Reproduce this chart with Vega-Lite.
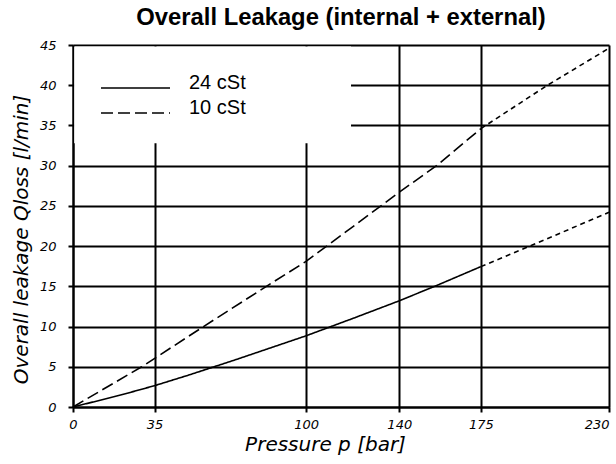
{
  "$schema": "https://vega.github.io/schema/vega-lite/v6.json",
  "width": 536,
  "height": 362,
  "autosize": {"type": "none"},
  "padding": {"left": 73, "top": 45, "right": 7, "bottom": 57},
  "background": "white",
  "config": {"view": {"stroke": null}, "font": "Liberation Sans"},
  "title": {
    "text": "Overall Leakage (internal + external)",
    "font": "Liberation Sans",
    "fontSize": 23.8,
    "fontWeight": "bold",
    "color": "black",
    "anchor": "middle",
    "offset": 9
  },
  "layer": [
    {
      "data": {"values": [{}]},
      "mark": {"type": "rect", "fill": "white"},
      "encoding": {
        "x": {"datum": 0.5, "type": "quantitative"},
        "x2": {"datum": 119.3},
        "y": {"datum": 32.8, "type": "quantitative"},
        "y2": {"datum": 44.8}
      }
    },
    {
      "data": {
        "values": [
          {"p": 0, "q": 0, "curve": "24", "style": "24 cSt"},
          {"p": 20, "q": 1.45, "curve": "24", "style": "24 cSt"},
          {"p": 35, "q": 2.65, "curve": "24", "style": "24 cSt"},
          {"p": 50, "q": 4.0, "curve": "24", "style": "24 cSt"},
          {"p": 70, "q": 5.9, "curve": "24", "style": "24 cSt"},
          {"p": 100, "q": 8.85, "curve": "24", "style": "24 cSt"},
          {"p": 120, "q": 11.0, "curve": "24", "style": "24 cSt"},
          {"p": 140, "q": 13.2, "curve": "24", "style": "24 cSt"},
          {"p": 156, "q": 15.1, "curve": "24", "style": "24 cSt"},
          {"p": 175, "q": 17.45, "curve": "24", "style": "24 cSt"},
          {"p": 175, "q": 17.45, "curve": "24", "style": "ext"},
          {"p": 196, "q": 20.0, "curve": "24", "style": "ext"},
          {"p": 230, "q": 24.2, "curve": "24", "style": "ext"},
          {"p": 0, "q": 0, "curve": "10", "style": "10 cSt"},
          {"p": 15, "q": 2.55, "curve": "10", "style": "10 cSt"},
          {"p": 29.5, "q": 5.0, "curve": "10", "style": "10 cSt"},
          {"p": 56, "q": 10.0, "curve": "10", "style": "10 cSt"},
          {"p": 83, "q": 15.0, "curve": "10", "style": "10 cSt"},
          {"p": 100, "q": 18.1, "curve": "10", "style": "10 cSt"},
          {"p": 120, "q": 22.4, "curve": "10", "style": "10 cSt"},
          {"p": 140, "q": 26.7, "curve": "10", "style": "10 cSt"},
          {"p": 156, "q": 30.0, "curve": "10", "style": "10 cSt"},
          {"p": 175, "q": 34.6, "curve": "10", "style": "10 cSt"},
          {"p": 175, "q": 34.6, "curve": "10", "style": "ext"},
          {"p": 203.6, "q": 40.0, "curve": "10", "style": "ext"},
          {"p": 230, "q": 44.6, "curve": "10", "style": "ext"}
        ]
      },
      "mark": {"type": "line", "color": "black", "strokeWidth": 1.6},
      "encoding": {
        "x": {
          "field": "p",
          "type": "quantitative",
          "scale": {"domain": [0, 230], "nice": false, "zero": false},
          "axis": {
            "values": [0, 35, 100, 140, 175, 230],
            "title": "Pressure p [bar]",
            "titleFont": "DejaVu Sans",
            "titleFontStyle": "italic",
            "titleFontWeight": "normal",
            "titleFontSize": 20,
            "titleColor": "black",
            "titleX": 252,
            "titleY": 27,
            "titleBaseline": "top",
            "labelFont": "DejaVu Sans",
            "labelFontStyle": "italic",
            "labelFontSize": 13,
            "labelColor": "black",
            "labelPadding": 6,
            "labelFlush": false,
            "labelOverlap": false,
            "labelAlign": {"condition": {"test": "datum.value === 230", "value": "right"}, "value": "center"},
            "tickSize": 5,
            "tickWidth": 2,
            "tickColor": "black",
            "domainColor": "black",
            "domainWidth": 2,
            "grid": true,
            "gridColor": "black",
            "gridWidth": 2,
            "gridOpacity": 1
          }
        },
        "y": {
          "field": "q",
          "type": "quantitative",
          "scale": {"domain": [0, 45], "nice": false},
          "axis": {
            "values": [0, 5, 10, 15, 20, 25, 30, 35, 40, 45],
            "title": "Overall leakage Qloss [l/min]",
            "titleFont": "DejaVu Sans",
            "titleFontStyle": "italic",
            "titleFontWeight": "normal",
            "titleFontSize": 20,
            "titleColor": "black",
            "titleX": -42,
            "titleY": 194,
            "labelFont": "DejaVu Sans",
            "labelFontStyle": "italic",
            "labelFontSize": 13,
            "labelColor": "black",
            "labelPadding": 12,
            "labelFlush": false,
            "labelOverlap": false,
            "tickSize": 5,
            "tickWidth": 2,
            "tickColor": "black",
            "domainColor": "black",
            "domainWidth": 2,
            "grid": true,
            "gridColor": "black",
            "gridWidth": 2,
            "gridOpacity": 1
          }
        },
        "strokeDash": {
          "field": "style",
          "type": "nominal",
          "scale": {"domain": ["24 cSt", "10 cSt", "ext"], "range": [[1, 0], [12, 5], [5, 4]]},
          "legend": {
            "values": ["24 cSt", "10 cSt"],
            "title": null,
            "orient": "none",
            "legendX": 27,
            "legendY": 31,
            "padding": 0,
            "symbolType": "stroke",
            "symbolSize": 4761,
            "symbolStrokeWidth": 1.6,
            "symbolStrokeColor": "black",
            "labelFont": "Liberation Sans",
            "labelFontSize": 20,
            "labelColor": "black",
            "labelOffset": 18,
            "rowPadding": -2,
            "clipHeight": 24,
            "encode": {"labels": {"update": {"dy": {"value": -5}}}}
          }
        },
        "detail": {"field": "curve"}
      }
    }
  ]
}
